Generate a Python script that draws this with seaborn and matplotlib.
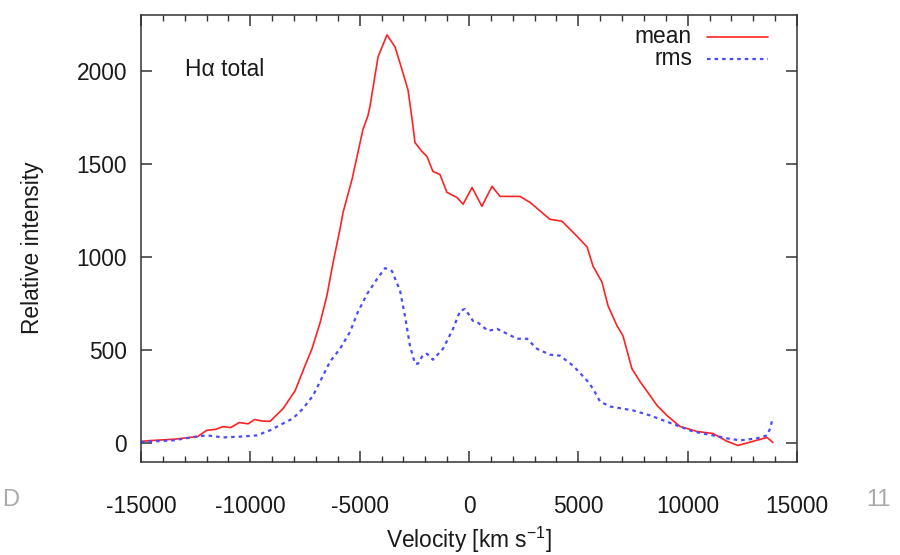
import numpy as np
import pandas as pd
import matplotlib
matplotlib.use("Agg")
import matplotlib.pyplot as plt
import seaborn as sns
from matplotlib.ticker import MultipleLocator

# ---- data ----
mean_v = [-15000, -14600, -13500, -12400, -12000, -11600, -11250, -10900, -10500, -10100,
          -9800, -9450, -9100, -8500, -7950, -7500, -7180, -6800, -6500, -6200, -5900,
          -5760, -5350, -4850, -4620, -4530, -4160, -3750, -3380, -3060, -2790, -2600,
          -2470, -2150, -1920, -1650, -1330, -1010, -550, -270, 140, 590, 1050, 1420,
          2330, 2790, 3700, 4250, 4940, 5400, 5670, 6080, 6360, 6770, 7040, 7450, 7820,
          8280, 8600, 9050, 9650, 10430, 11160, 11800, 12300, 12990, 13630, 13900]
mean_i = [10, 15, 22, 37, 70, 75, 90, 85, 112, 105, 128, 120, 118, 187, 283, 417, 508,
          652, 792, 980, 1150, 1240, 1417, 1685, 1760, 1808, 2075, 2193, 2128, 2005, 1898,
          1738, 1615, 1567, 1540, 1460, 1444, 1348, 1320, 1284, 1374, 1273, 1380, 1326,
          1326, 1294, 1203, 1193, 1112, 1055, 952, 866, 738, 631, 578, 401, 332, 257, 203,
          150, 91, 64, 53, 11, -11, 11, 32, 5]

rms_v = [-15000, -14590, -13540, -12440, -11980, -11250, -10340, -9700, -9100, -8500,
         -8050, -7590, -7130, -6810, -6360, -5900, -5440, -5080, -4660, -4210, -3840,
         -3520, -3150, -2930, -2700, -2470, -2330, -2100, -1920, -1650, -1190, -730,
         -410, -180, 180, 370, 870, 1280, 2200, 2650, 3110, 3700, 4160, 4760, 5400,
         5670, 5990, 6450, 7500, 8280, 9510, 10240, 11160, 11800, 12390, 13170, 13630,
         13770, 13900]
rms_i = [8, 10, 16, 37, 43, 32, 37, 43, 70, 107, 134, 187, 257, 332, 438, 508, 599, 706,
         802, 882, 941, 925, 818, 685, 524, 428, 428, 476, 481, 449, 508, 615, 711, 722,
         658, 652, 604, 615, 562, 562, 508, 476, 471, 417, 337, 294, 225, 198, 177, 150,
         96, 64, 43, 27, 16, 27, 43, 80, 140]

x_ticks = [-15000, -10000, -5000, 0, 5000, 10000, 15000]
y_ticks = [0, 500, 1000, 1500, 2000]

sns.set_style("ticks")
plt.rcParams['font.family'] = ['Liberation Sans', 'DejaVu Sans']
plt.rcParams['mathtext.fontset'] = 'custom'
plt.rcParams['mathtext.rm'] = 'Liberation Sans'
plt.rcParams['mathtext.it'] = 'Liberation Sans:italic'

FS = 16.4
txt = '#1a1a1a'
fig = plt.figure(figsize=(9, 5.55), dpi=100)
ax = fig.add_axes([141/900, 1-462/555, 656/900, 447/555])

df_mean = pd.DataFrame({'v': mean_v, 'i': mean_i})
df_rms = pd.DataFrame({'v': rms_v, 'i': rms_i})
sns.lineplot(data=df_mean, x='v', y='i', ax=ax, color='#ff2222', lw=1.2, sort=False)
sns.lineplot(data=df_rms, x='v', y='i', ax=ax, color='#4a4aff', lw=1.6,
             linestyle=(0, (1.6, 1.8)), sort=False)

ax.set_xlim(-15000, 15000)
ax.set_ylim(-100, 2300)
ax.set_xticks(x_ticks)
ax.set_xticklabels([str(t) for t in x_ticks])
ax.set_yticks(y_ticks)
ax.set_yticklabels([str(t) for t in y_ticks])
ax.xaxis.set_minor_locator(MultipleLocator(1000))

ax.tick_params(axis='x', which='major', direction='in', length=8, width=1.1,
               top=True, pad=24, labelsize=FS, colors='#333333', labelcolor=txt)
ax.tick_params(axis='x', which='minor', direction='in', length=4, width=1.0,
               top=True, colors='#333333')
ax.tick_params(axis='y', which='major', direction='in', length=8, width=1.1,
               right=True, pad=10, labelsize=FS, colors='#333333', labelcolor=txt)
for s in ax.spines.values():
    s.set_color('#333333')
    s.set_linewidth(1.1)

ax.set_xlabel('Velocity [km s$^{\\mathregular{-1}}$]', fontsize=FS, color=txt)
ax.set_ylabel('Relative intensity', fontsize=FS, color=txt)
ax.xaxis.set_label_coords(0.5, -0.175)
ax.xaxis.label.set_va('center')
ax.yaxis.set_label_coords(-0.165, 0.479)
ax.yaxis.label.set_va('center')

ax.text(0.067, 0.877, 'H\u03b1 total', transform=ax.transAxes, fontsize=FS,
        color=txt, ha='left', va='center')

# legend (right-aligned labels, sample line to the right)
ax.text(0.840, 0.951, 'mean', transform=ax.transAxes, fontsize=FS, color=txt,
        ha='right', va='center')
ax.text(0.840, 0.902, 'rms', transform=ax.transAxes, fontsize=FS, color=txt,
        ha='right', va='center')
ax.plot([0.863, 0.956], [0.951, 0.951], transform=ax.transAxes, color='#ff2222', lw=1.2)
ax.plot([0.863, 0.956], [0.902, 0.902], transform=ax.transAxes, color='#4a4aff', lw=1.6,
        linestyle=(0, (1.6, 1.8)))

# slide artefacts at the figure edges
fig.text(0.002, 1-500/555, 'D', fontsize=17, color='#aaaaaa', ha='left', va='center')
fig.text(0.963, 1-500/555, '11', fontsize=17, color='#aaaaaa', ha='left', va='center')

fig.savefig('out.png', dpi=100)
